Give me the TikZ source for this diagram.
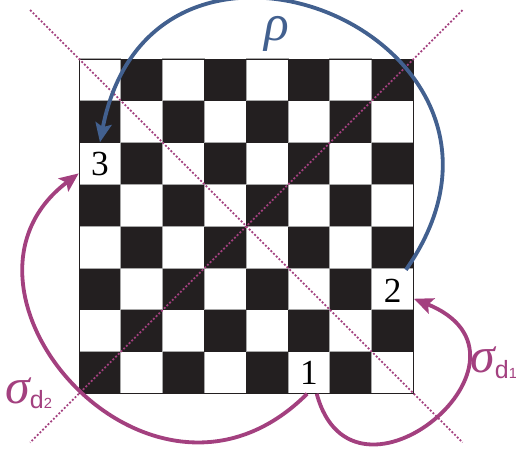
\documentclass[tikz,border=0pt]{standalone}
\usepackage{fontspec}
\setmainfont{Liberation Serif}
\setsansfont{Liberation Sans}
\usetikzlibrary{arrows.meta}
\definecolor{boardblack}{HTML}{231F20}
\definecolor{gridgray}{HTML}{A8A8A8}
\definecolor{mirror}{HTML}{A3407F}
\definecolor{rotblue}{HTML}{42608F}

\newcommand{\sigmad}[1]{{\fontsize{34}{34}\selectfont\itshape σ}\raisebox{-4pt}{\sffamily\fontsize{17}{17}\selectfont d{\fontsize{10}{10}\selectfont #1}}}

\tikzset{
  numbox/.style={minimum size=1cm, inner sep=0pt, font=\fontsize{24}{24}\selectfont},
  symop/.style={line width=2.6pt, -{Stealth[length=13pt,width=11pt,inset=2.5pt]}},
  opname/.style={inner sep=0pt, anchor=base west, text=mirror},
  mirrorline/.style={mirror, line width=1.2pt, dash pattern=on 1.3pt off 1.3pt},
}

\begin{document}
\begin{tikzpicture}
  \useasboundingbox (-1.89,-1.32) rectangle (10.45,9.41);

  % Board
  \foreach \i in {0,...,7}
    \foreach \j in {0,...,7} {
      \pgfmathtruncatemacro{\odd}{mod(\i+\j,2)}
      \ifnum\odd=0
        \fill[boardblack] (\i,\j) rectangle ++(1,1);
      \else
        \draw[gridgray, line width=0.7pt, fill=white] (\i,\j) rectangle ++(1,1);
      \fi
    }
  \draw[boardblack, line width=0.5pt] (0,0) rectangle (8,8);

  % Diagonals
  \draw[mirrorline] (-1.17,9.17) -- (9.17,-1.17);
  \draw[mirrorline] (9.17,9.17) -- (-1.17,-1.17);

  % Numbered squares
  \node[numbox] (n1) at (5.5,0.5) {1};
  \node[numbox] (n2) at (7.5,2.45) {2};
  \node[numbox] (n3) at (0.5,5.5) {3};

  % Operations
  \draw[symop, rotblue] (n2.58) .. controls +(55:6.7) and +(79:6.7) .. (n3.north);
  \draw[symop, mirror] (n1.265) .. controls +(225:5.29) and +(217:4.6) .. (n3.205);
  \draw[symop, mirror] (n1.290) .. controls +(-75:3.35) and +(-22:3.71) .. (n2.340);

  \node[text=rotblue, inner sep=0pt, font=\fontsize{35}{35}\selectfont\itshape] (rho) at (4.74,8.6) {ρ};
  \node[opname] (sd1) at (9.35,0.51) {\sigmad{1}};
  \node[opname] (sd2) at (-1.77,-0.23) {\sigmad{2}};
\end{tikzpicture}
\end{document}
